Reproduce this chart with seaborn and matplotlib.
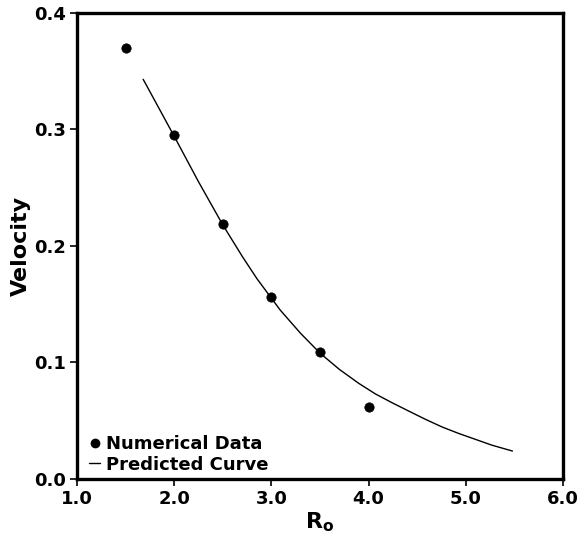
import matplotlib
matplotlib.use("Agg")
import matplotlib.pyplot as plt
import seaborn as sns
import pandas as pd
from matplotlib.lines import Line2D

# Numerical data
r_data = [1.5, 2.0, 2.5, 3.0, 3.5, 4.0]
v_data = [0.370, 0.295, 0.219, 0.156, 0.109, 0.062]

# Predicted curve
r_curve = [1.68, 1.85, 2.0, 2.25, 2.5, 2.7, 2.85, 3.09, 3.3, 3.5, 3.7, 3.90, 4.07,
           4.24, 4.42, 4.59, 4.76, 4.93, 5.1, 5.27, 5.48]
v_curve = [0.343, 0.317, 0.294, 0.255, 0.218, 0.191, 0.172, 0.145, 0.125, 0.108, 0.094,
           0.082, 0.073, 0.0655, 0.058, 0.051, 0.0445, 0.039, 0.034, 0.029, 0.024]

x_ticks = [1.0, 2.0, 3.0, 4.0, 5.0, 6.0]
y_ticks = [0.0, 0.1, 0.2, 0.3, 0.4]

sns.set_theme(style="ticks")
plt.rcParams['font.family'] = ['DejaVu Sans']
plt.rcParams.update({"text.color": "black", "axes.labelcolor": "black",
                     "xtick.color": "black", "ytick.color": "black"})

df_pts = pd.DataFrame({"R": r_data, "V": v_data})
df_curve = pd.DataFrame({"R": r_curve, "V": v_curve})

fig = plt.figure(figsize=(5.84, 5.37), dpi=100)
ax = fig.add_axes([0.132, 0.108, 0.832, 0.868])

sns.lineplot(data=df_curve, x="R", y="V", ax=ax, color="black", linewidth=1.0, sort=True)
sns.scatterplot(data=df_pts, x="R", y="V", ax=ax, color="black", s=45, edgecolor="black", zorder=3)

ax.set_xlim(1.0, 6.0)
ax.set_ylim(0.0, 0.4)
ax.set_xticks(x_ticks)
ax.set_yticks(y_ticks)
ax.set_xticklabels([f"{t:.1f}" for t in x_ticks], fontsize=13, fontweight="bold")
ax.set_yticklabels([f"{t:.1f}" for t in y_ticks], fontsize=13, fontweight="bold")
ax.tick_params(direction="out", length=5, width=1.2, color="black", pad=3)

for s in ax.spines.values():
    s.set_visible(True)
    s.set_linewidth(2.4)
    s.set_color("black")

ax.set_xlabel(r"R$_\mathbf{o}$", fontsize=16, fontweight="bold", labelpad=2)
ax.set_ylabel("Velocity", fontsize=16, fontweight="bold", labelpad=2)

handles = [
    Line2D([], [], marker="o", linestyle="none", color="black", markersize=6),
    Line2D([], [], color="black", linewidth=1.0),
]
leg = ax.legend(handles, ["Numerical Data", "Predicted Curve"], loc="lower left",
                bbox_to_anchor=(0.014, 0.0),
                frameon=False, handlelength=0.6, handletextpad=0.3,
                borderaxespad=0.1, borderpad=0.2, labelspacing=0.15,
                prop={"weight": "bold", "size": 13})

fig.savefig("out.png", dpi=100, facecolor="white")
